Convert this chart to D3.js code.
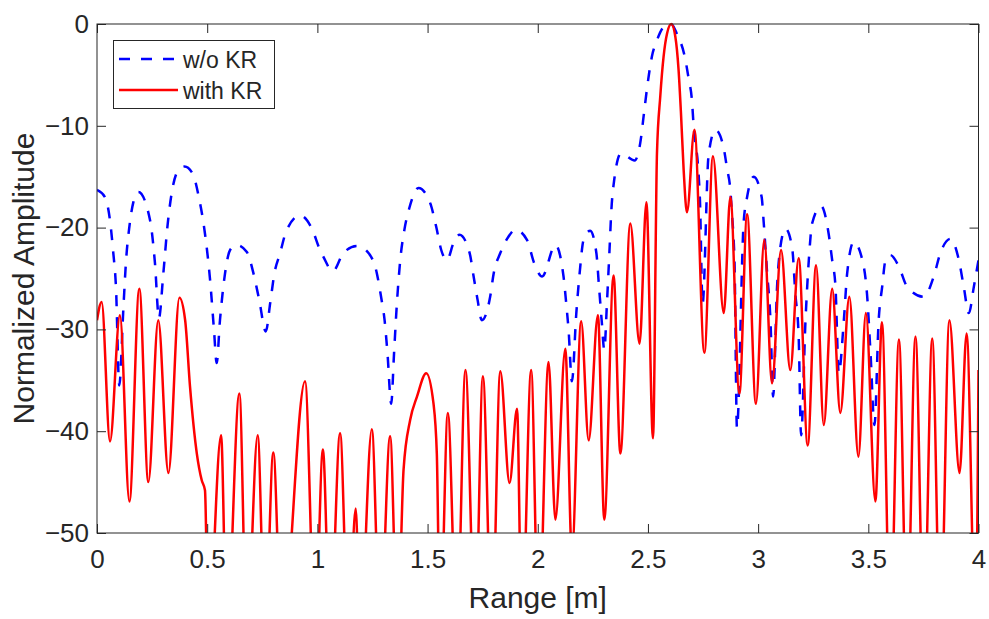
<!DOCTYPE html>
<html>
<head>
<meta charset="utf-8">
<script src="https://cdn.jsdelivr.net/npm/d3@7"></script>
<style>
  html, body { margin: 0; padding: 0; background: #fff; }
  svg { display: block; }
  text { font-family: "Liberation Sans", Arial, Helvetica, sans-serif; fill: #262626; }
</style>
</head>
<body>
<svg id="chart" width="989" height="619"></svg>
<script>
// ---------------- data ----------------
const xTicks = [0, 0.5, 1, 1.5, 2, 2.5, 3, 3.5, 4];
const xTickLabels = ["0", "0.5", "1", "1.5", "2", "2.5", "3", "3.5", "4"];
const yTicks = [0, -10, -20, -30, -40, -50];
const yTickLabels = ["0", "\u221210", "\u221220", "\u221230", "\u221240", "\u221250"];
const seriesNames = ["w/o KR", "with KR"];
const xLabel = "Range [m]";
const yLabel = "Normalized Amplitude";

// w/o KR (blue dashed)
const woKRx = [0.000, 0.036, 0.059, 0.074, 0.086, 0.101, 0.120, 0.132, 0.147, 0.165, 0.188,
  0.241, 0.263, 0.281, 0.301, 0.321, 0.339, 0.365, 0.397, 0.434, 0.462, 0.490, 0.513, 0.531, 0.543,
  0.558, 0.581, 0.604, 0.634, 0.680, 0.710, 0.736, 0.766, 0.786, 0.805, 0.831, 0.858, 0.922,
  0.975, 1.012, 1.028, 1.070, 1.118, 1.180, 1.232, 1.270, 1.289, 1.305, 1.318, 1.335,
  1.348, 1.361, 1.376, 1.395, 1.417, 1.459, 1.512, 1.539, 1.562, 1.588, 1.618, 1.645,
  1.691, 1.709, 1.727, 1.746, 1.784, 1.800, 1.830, 1.867, 1.898, 1.951, 1.984, 2.020,
  2.080, 2.117, 2.129, 2.140, 2.155, 2.175, 2.190, 2.208, 2.238, 2.266, 2.278, 2.290, 2.302,
  2.314, 2.325, 2.334, 2.347, 2.378, 2.440, 2.465, 2.484, 2.499, 2.518, 2.541, 2.571, 2.605,
  2.632, 2.667, 2.685, 2.700, 2.707, 2.730, 2.736, 2.748, 2.775, 2.806, 2.841, 2.859, 2.874,
  2.882, 2.889, 2.893, 2.904, 2.934, 2.950, 2.980, 3.016, 3.025, 3.040, 3.056, 3.068,
  3.086, 3.101, 3.124, 3.154, 3.169, 3.184, 3.195, 3.215, 3.230, 3.245, 3.286, 3.320, 3.336,
  3.351, 3.366, 3.389, 3.404, 3.434, 3.479, 3.494, 3.510, 3.528, 3.547, 3.563, 3.578, 3.600,
  3.638, 3.676, 3.752, 3.797, 3.827, 3.873, 3.911, 3.933, 3.956, 3.979, 4.000];
const woKRy = [-16.3, -17.0, -19.3, -22.5, -25.8, -35.5, -27.8, -23.2, -19.9, -17.5, -16.5,
  -19.3, -23.5, -28.9, -24.5, -19.6, -16.6, -14.5, -14.0, -14.7, -17.0, -20.6, -25.1, -30.1, -33.3,
  -29.1, -24.5, -22.2, -21.7, -22.4, -24.5, -27.1, -30.2, -27.4, -24.5, -22.5, -20.4, -18.8,
  -20.1, -22.2, -22.9, -24.3, -22.5, -21.8, -22.5, -24.5, -26.8, -29.1, -32.3, -37.3,
  -32.3, -27.4, -23.2, -20.2, -18.1, -16.1, -17.6, -19.9, -22.2, -23.2, -21.5, -20.7,
  -22.5, -24.8, -27.1, -29.1, -26.8, -24.5, -22.5, -20.9, -20.2, -21.2, -23.5, -24.8,
  -21.7, -24.8, -27.4, -30.1, -35.1, -28.4, -24.5, -21.2, -20.3, -22.5, -25.8, -29.1, -32.0,
  -27.4, -22.5, -18.3, -15.3, -12.7, -13.4, -11.7, -8.4, -5.8, -3.2, -1.6, -0.3, 0.0,
  -1.0, -3.2, -5.4, -7.6, -9.9, -14.8, -17.3, -27.5, -12.9, -10.4, -11.9, -14.2, -16.3,
  -18.9, -21.2, -23.5, -39.7, -19.6, -17.0, -15.0, -17.0, -19.4, -24.2, -29.1, -36.6,
  -25.8, -21.9, -20.1, -21.9, -26.5, -30.7, -40.4, -29.1, -23.2, -19.6, -17.9, -20.6, -23.2,
  -25.8, -34.3, -29.1, -24.5, -21.4, -23.8, -26.5, -32.3, -39.4, -29.1, -25.8, -23.2, -22.7,
  -23.8, -25.8, -26.8, -24.8, -22.5, -21.1, -23.2, -25.8, -28.4, -25.8, -23.2];

// with KR (red solid)
const withKRx = [0.000, 0.021, 0.059, 0.104, 0.147, 0.192, 0.233, 0.278, 0.324, 0.374,
  0.400, 0.422, 0.453, 0.475, 0.490, 0.505, 0.563, 0.589, 0.646, 0.680, 0.729, 0.763, 0.800, 0.838,
  0.944, 0.990, 1.025, 1.058, 1.103, 1.141, 1.174, 1.194, 1.247, 1.285, 1.330, 1.364,
  1.391, 1.421, 1.452, 1.494, 1.527, 1.542, 1.557, 1.592, 1.633, 1.672, 1.716, 1.751, 1.792,
  1.830, 1.872, 1.906, 1.928, 1.970, 2.004, 2.049, 2.080, 2.125, 2.155, 2.197, 2.231, 2.273,
  2.302, 2.344, 2.375, 2.420, 2.462, 2.493, 2.523, 2.541, 2.556, 2.571, 2.587, 2.606,
  2.624, 2.639, 2.650, 2.662, 2.677, 2.711, 2.756, 2.795, 2.844, 2.874, 2.915, 2.950, 2.990,
  3.028, 3.063, 3.104, 3.146, 3.184, 3.225, 3.263, 3.298, 3.336, 3.373, 3.414, 3.455, 3.489,
  3.532, 3.562, 3.600, 3.639, 3.676, 3.714, 3.752, 3.790, 3.827, 3.868, 3.914, 3.946, 3.987, 4.000];
const withKRy = [-29.1, -27.3, -41.0, -28.6, -46.9, -26.0, -45.0, -29.1, -44.1, -26.9,
  -29.1, -35.6, -42.2, -44.8, -45.8, -60, -40.4, -60, -36.3, -60, -40.4, -60, -42.1, -60,
  -35.1, -60, -41.8, -60, -40.2, -60, -47.6, -60, -39.8, -60, -40.5, -60,
  -43.8, -38.9, -36.6, -34.3, -37.3, -42.2, -60, -38.2, -60, -34.0, -60, -34.6, -60,
  -34.1, -45.1, -37.8, -60, -34.0, -60, -33.2, -48.7, -31.9, -52, -29.2, -40.9, -28.6,
  -48.7, -24.7, -42.2, -19.6, -31.4, -17.5, -40.7, -12.7, -7.1, -3.2, -0.9, 0.0,
  -1.2, -4.5, -8.8, -14.3, -18.5, -10.4, -32.3, -13.0, -28.4, -17.0, -36.3, -18.7, -37.3,
  -21.2, -35.3, -22.2, -34.0, -23.0, -41.4, -23.7, -39.4, -26.0, -38.2, -26.8, -42.5, -28.4,
  -46.9, -29.3, -60, -31.0, -60, -30.7, -60, -30.9, -60, -29.1, -44.1, -30.4, -60, -34.0];

// ---------------- layout ----------------
const svg = d3.select("#chart");
const L = 97, R = 978.5, T = 24, B = 533;
const x = d3.scaleLinear().domain([0, 4]).range([L, R]);
const y = d3.scaleLinear().domain([-50, 0]).range([B, T]);
const axisColor = "#262626";
const tickLen = 9;

svg.append("rect").attr("x", L).attr("y", T).attr("width", R - L).attr("height", B - T).attr("fill", "#fff");

svg.append("defs").append("clipPath").attr("id", "plotClip")
  .append("rect").attr("x", L).attr("y", T - 2).attr("width", R - L).attr("height", B - T + 2);

const line = d3.line().x(d => x(d[0])).y(d => y(d[1])).curve(d3.curveMonotoneX);
const blueData = woKRx.map((v, i) => [v, woKRy[i]]);
const redData = withKRx.map((v, i) => [v, withKRy[i]]);

const plot = svg.append("g").attr("clip-path", "url(#plotClip)");
plot.append("path").datum(blueData).attr("d", line)
  .attr("fill", "none").attr("stroke", "#0000ff").attr("stroke-width", 2.5)
  .attr("stroke-dasharray", "11,11");
plot.append("path").datum(redData).attr("d", line)
  .attr("fill", "none").attr("stroke", "#ff0000").attr("stroke-width", 2.5)
  .attr("stroke-linejoin", "round");

// axes
const fontTick = 26;
const gx = svg.append("g").attr("transform", `translate(0,${B})`)
  .call(d3.axisBottom(x).tickValues(xTicks).tickFormat((d, i) => xTickLabels[i])
    .tickSizeInner(-tickLen).tickSizeOuter(0).tickPadding(17));
const gy = svg.append("g").attr("transform", `translate(${L},0)`)
  .call(d3.axisLeft(y).tickValues(yTicks).tickFormat((d, i) => yTickLabels[i])
    .tickSizeInner(-tickLen).tickSizeOuter(0).tickPadding(8));
const gxt = svg.append("g").attr("transform", `translate(0,${T})`)
  .call(d3.axisTop(x).tickValues(xTicks).tickFormat("").tickSizeInner(-tickLen).tickSizeOuter(0));
const gyr = svg.append("g").attr("transform", `translate(${R},0)`)
  .call(d3.axisRight(y).tickValues(yTicks).tickFormat("").tickSizeInner(-tickLen).tickSizeOuter(0));

[gx, gy, gxt, gyr].forEach(g => {
  g.select(".domain").remove();
  g.selectAll(".tick line").attr("stroke", axisColor).attr("stroke-width", 1);
  g.selectAll(".tick text").attr("fill", axisColor).style("font-size", fontTick + "px")
    .style("font-family", '"Liberation Sans", Arial, sans-serif');
});

svg.append("rect").attr("x", L).attr("y", T).attr("width", R - L).attr("height", B - T)
  .attr("fill", "none").attr("stroke", axisColor).attr("stroke-width", 1);

// axis labels
svg.append("text").attr("x", (L + R) / 2).attr("y", 608).attr("text-anchor", "middle")
  .style("font-size", "30px").text(xLabel);
svg.append("text").attr("transform", `translate(34,${(T + B) / 2}) rotate(-90)`)
  .attr("text-anchor", "middle").style("font-size", "30px").text(yLabel);

// legend
const lg = svg.append("g");
lg.append("rect").attr("x", 113.5).attr("y", 40.5).attr("width", 161).attr("height", 68)
  .attr("fill", "#fff").attr("stroke", axisColor).attr("stroke-width", 1);
const legendItems = [
  { name: seriesNames[0], color: "#0000ff", dash: "11,11", yy: 59 },
  { name: seriesNames[1], color: "#ff0000", dash: null, yy: 90 }
];
legendItems.forEach(it => {
  lg.append("line").attr("x1", 119).attr("x2", 178).attr("y1", it.yy).attr("y2", it.yy)
    .attr("stroke", it.color).attr("stroke-width", 2.5).attr("stroke-dasharray", it.dash);
  lg.append("text").attr("x", 183).attr("y", it.yy + 9).style("font-size", "23px").text(it.name);
});
</script>
</body>
</html>
